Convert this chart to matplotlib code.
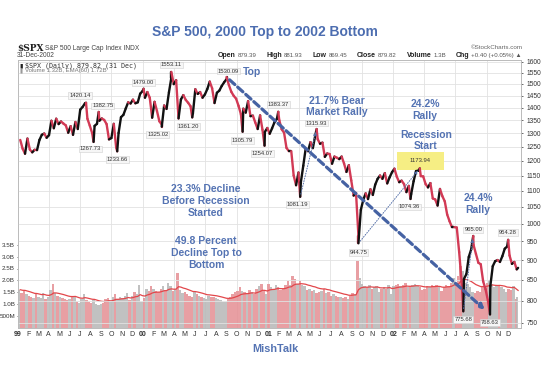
import numpy as np
import pandas as pd
import matplotlib
matplotlib.use('Agg')
import matplotlib.pyplot as plt
import matplotlib.dates as mdates
from matplotlib.collections import LineCollection
from matplotlib.patches import Rectangle

plt.rcParams['font.family'] = ['Liberation Sans', 'DejaVu Sans']

# ---------------- data ----------------
close_1999 = [1275, 1243, 1225, 1280, 1240, 1230, 1239, 1238, 1275, 1294, 1299, 1283,
              1293, 1348, 1319, 1356, 1335, 1345, 1337, 1330, 1302, 1327, 1294, 1343, 1316,
              1392, 1403, 1418, 1356, 1329, 1300, 1328, 1336, 1348, 1357, 1351, 1335, 1277,
              1282, 1336, 1247, 1301, 1362, 1371, 1397, 1422, 1417, 1433, 1418, 1422, 1458, 1469]
close_2000 = [1441, 1465, 1441, 1360, 1424, 1387, 1346, 1333, 1409, 1395, 1464, 1527, 1499,
              1516, 1357, 1434, 1452, 1432, 1420, 1406, 1378, 1477, 1457, 1465, 1441, 1455,
              1478, 1510, 1481, 1419, 1462, 1471, 1491, 1507, 1521, 1495, 1466, 1449, 1437,
              1408, 1374, 1396, 1380, 1427, 1366, 1368, 1341, 1316, 1369, 1313, 1305, 1320]
close_2001 = [1298, 1319, 1342, 1355, 1350, 1315, 1302, 1246, 1234, 1234, 1150, 1118, 1160,
              1128, 1183, 1243, 1234, 1267, 1245, 1292, 1278, 1261, 1265, 1214, 1226, 1224,
              1190, 1215, 1211, 1206, 1215, 1191, 1162, 1185, 1134, 1085, 1093, 966, 1041,
              1071, 1092, 1074, 1105, 1087, 1120, 1139, 1150, 1139, 1158, 1124, 1144, 1161]
close_2002 = [1173, 1146, 1128, 1133, 1122, 1096, 1116, 1090, 1131, 1165, 1166, 1148, 1147,
              1122, 1111, 1125, 1076, 1073, 1054, 1106, 1083, 1067, 1027, 1007, 990, 990,
              989, 921, 847, 852, 864, 908, 928, 940, 916, 893, 889, 846, 827,
              800, 835, 884, 897, 900, 895, 910, 930, 936, 912, 890, 895, 876, 879.82]

vol_1999 = [1.60, 1.45, 1.55, 1.40, 1.35, 1.30, 1.25, 1.40, 1.30, 1.25, 1.45, 1.20,
            1.30, 1.60, 1.85, 1.45, 1.35, 1.30, 1.25, 1.20, 1.15, 1.20, 1.30, 1.35, 1.10,
            1.05, 1.20, 1.40, 1.15, 1.10, 1.05, 1.15, 1.00, 0.95, 1.00, 1.05, 1.20, 1.25,
            1.10, 1.30, 1.40, 1.20, 1.30, 1.25, 1.35, 1.45, 1.15, 1.35, 1.50, 1.40, 1.80, 1.10]
vol_2000 = [1.25, 1.65, 1.55, 1.75, 1.65, 1.55, 1.50, 1.65, 1.75, 1.60, 1.90, 1.75, 1.55,
            1.65, 2.30, 1.60, 1.45, 1.50, 1.40, 1.35, 1.30, 1.50, 1.40, 1.35, 1.30, 1.25,
            1.20, 1.35, 1.30, 1.30, 1.25, 1.20, 1.15, 1.10, 1.10, 1.20, 1.30, 1.40, 1.50,
            1.55, 1.70, 1.55, 1.50, 1.45, 1.60, 1.50, 1.40, 1.65, 1.75, 1.85, 1.55, 1.40]
vol_2001 = [1.85, 1.70, 1.65, 1.80, 1.70, 1.60, 1.65, 1.80, 1.95, 1.80, 2.20, 2.05, 1.85,
            1.95, 1.80, 1.75, 1.60, 1.65, 1.55, 1.60, 1.45, 1.50, 1.55, 1.65, 1.45, 1.50,
            1.35, 1.40, 1.35, 1.30, 1.30, 1.25, 1.30, 1.20, 1.35, 1.45, 1.40, 2.80, 2.10,
            1.85, 1.75, 1.70, 1.80, 1.65, 1.70, 1.75, 1.50, 1.65, 1.70, 1.65, 1.80, 1.40]
vol_2002 = [1.75, 1.80, 1.85, 1.75, 1.80, 1.90, 1.70, 1.75, 1.80, 1.85, 1.75, 1.70, 1.60,
            1.65, 1.75, 1.70, 1.80, 1.75, 1.80, 1.70, 1.55, 1.70, 1.80, 1.75, 1.90, 2.10,
            1.85, 2.20, 2.60, 2.40, 1.90, 1.85, 1.70, 1.50, 1.45, 1.55, 1.50, 1.75, 1.70,
            1.90, 2.00, 1.85, 1.70, 1.75, 1.80, 1.70, 1.65, 1.50, 1.65, 1.60, 1.75, 1.20, 1.30]

# labelled highs / lows
pivot_dates = ['1999-07-19', '1999-08-10', '1999-08-25', '1999-10-18', '2000-01-03',
               '2000-02-25', '2000-03-24', '2000-05-24', '2000-09-01', '2000-10-18',
               '2000-12-21', '2001-01-30', '2001-04-04', '2001-05-22', '2001-09-21',
               '2002-02-20', '2002-03-19', '2002-07-24', '2002-08-22', '2002-10-10',
               '2002-12-02']
pivot_values = [1420.14, 1267.73, 1382.75, 1233.66, 1479.00,
                1325.02, 1553.11, 1361.20, 1530.09, 1305.79,
                1254.07, 1383.37, 1081.19, 1315.93, 944.75,
                1074.36, 1173.94, 775.68, 965.00, 768.63,
                954.28]

price_ticks = list(range(750, 1601, 50))
vol_ticks = [0.5, 1.0, 1.5, 2.0, 2.5, 3.0, 3.5]
vol_tick_labels = ['500M', '1.0B', '1.5B', '2.0B', '2.5B', '3.0B', '3.5B']

# ---------------- layout helpers ----------------
W, H = 556, 370
fig = plt.figure(figsize=(W / 100, H / 100), dpi=100)


def fx(x):
    return x / W


def fy(y):
    return 1 - y / H


L, R, T, B = 17.5, 520.5, 59.5, 328.0
axv = fig.add_axes([fx(L), fy(B), (R - L) / W, (B - T) / H])
ax = axv.twinx()

week_dates = pd.date_range('1999-01-08', '2002-12-27', freq='W-FRI').append(
    pd.DatetimeIndex(['2002-12-31']))
weekly_close = close_1999 + close_2000 + close_2001 + close_2002
weekly_vol = vol_1999 + vol_2000 + vol_2001 + vol_2002

# ---------------- volume ----------------
wc = np.array(weekly_close, dtype=float)
down = np.r_[False, wc[1:] < wc[:-1]]
vcol = np.where(down, '#e58e93', '#b7b7b7')
axv.bar(week_dates - pd.Timedelta(days=3), weekly_vol, width=7, color=vcol,
        alpha=0.85, linewidth=0, zorder=1)
ema = pd.Series(weekly_vol).ewm(span=12, adjust=False).mean()
axv.plot(week_dates, ema, color='#e2474b', lw=0.9, zorder=2)
axv.set_ylim(-0.5 / 23.6, (B - T - 0.5) / 23.6)
axv.set_yticks(vol_ticks)
axv.set_yticklabels(vol_tick_labels)
axv.tick_params(axis='y', labelsize=4.5, colors='#333333', length=1.0, pad=0.8,
                width=0.5)

# ---------------- price ----------------
pdates = pd.to_datetime(pivot_dates)
s = pd.concat([pd.Series(weekly_close, index=week_dates),
               pd.Series(pivot_values, index=pdates)]).sort_index()
xs = mdates.date2num(s.index.to_pydatetime())
ys = s.values
pts = np.column_stack([xs, ys])
segs = np.stack([pts[:-1], pts[1:]], axis=1)
cols = ['#111111' if ys[i + 1] >= ys[i] else '#d23a55' for i in range(len(ys) - 1)]
ax.add_collection(LineCollection(segs, colors=cols, linewidths=1.7, zorder=4,
                                 capstyle='round', joinstyle='round'))
ax.set_yscale('log')
ax.set_ylim(739, 1610)
ax.yaxis.set_minor_locator(matplotlib.ticker.NullLocator())
ax.yaxis.set_minor_formatter(matplotlib.ticker.NullFormatter())
ax.set_yticks(price_ticks)
ax.set_yticklabels([str(v) for v in price_ticks])
ax.tick_params(axis='y', labelsize=4.8, colors='#333333', length=1.5, pad=3,
               width=0.5)
ax.yaxis.grid(True, color='#e2e2e2', lw=0.6, zorder=0)
ax.set_axisbelow(True)

x0 = mdates.date2num(pd.Timestamp('1998-12-31'))
x1 = mdates.date2num(pd.Timestamp('2003-01-07'))
axv.set_xlim(x0, x1)
for q in pd.date_range('1999-04-01', '2002-10-01', freq='QS'):
    axv.axvline(q, color='#e2e2e2', lw=0.6, zorder=0)

months = pd.date_range('1999-01-01', '2002-12-01', freq='MS')
axv.set_xticks(mdates.date2num(months.to_pydatetime()))
labs = [f"{d.year % 100:02d}" if d.month == 1 else d.strftime('%b')[0] for d in months]
axv.set_xticklabels(labs)
axv.tick_params(axis='x', labelsize=5, colors='#333333', length=0, pad=2)
for t, d in zip(axv.get_xticklabels(), months):
    if d.month == 1:
        t.set_fontweight('bold')

for a in (ax, axv):
    for sp in a.spines.values():
        sp.set_color('#bbbbbb')
        sp.set_linewidth(0.6)

# ---------------- pivot labels ----------------
label_offsets = [(-6, 7), (-3, -7), (4, 6), (0, -8), (0, 6),
                 (-4, -8), (0, 7), (-4, -9), (2, 6), (0, -9),
                 (-2, -8), (0, 7), (-3, -8), (0, 6), (0, -9),
                 (-1, -8), (0, 7), (0, -8), (0, 6), (0, -8),
                 (0, 7)]
for d, v, (ox, oy) in zip(pdates, pivot_values, label_offsets):
    if v == 1173.94:
        continue
    ax.annotate(f"{v:.2f}", (d, v), xytext=(ox * 0.72, oy * 0.72),
                textcoords='offset points', ha='center', va='center',
                fontsize=4.2, color='#333333', zorder=6,
                bbox=dict(boxstyle='square,pad=0.15', fc='#f6f6f6', ec='#cfcfcf', lw=0.4))

# yellow highlight
ax.add_patch(Rectangle((fx(397), fy(170)), 47 / W, 18 / H, transform=fig.transFigure,
                       facecolor='#f6ee84', edgecolor='none', zorder=3, clip_on=False))
fig.text(fx(420), fy(161), '1173.94', ha='center', va='center', fontsize=4.2,
         color='#333333', zorder=7)

# ---------------- arrows ----------------
blue = '#4c6db0'
pv = dict(zip(pivot_values, pdates))
ax.annotate('', xy=(pv[768.63], 768.63), xytext=(pv[1530.09], 1530.09),
            arrowprops=dict(arrowstyle='-|>', lw=2.3, ls=(0, (2.2, 1.2)), color='#4562a3',
                            mutation_scale=7, shrinkA=3, shrinkB=5), zorder=5)
for lo, hi in [(1081.19, 1315.93), (944.75, 1173.94), (775.68, 965.00)]:
    ax.annotate('', xy=(pv[hi], hi), xytext=(pv[lo], lo),
                arrowprops=dict(arrowstyle='-|>', lw=0.7, ls=':', color='#5570a8',
                                mutation_scale=5, shrinkA=2, shrinkB=2), zorder=5)

# ---------------- texts ----------------
fig.text(fx(265), fy(32), 'S&P 500, 2000 Top to 2002 Bottom', ha='center', va='center',
         fontsize=10, fontweight='bold', color=blue)

ann = dict(ha='center', va='center', fontsize=7.5, fontweight='bold', color='#5473b3',
           linespacing=1.2)
fig.text(fx(243), fy(72), 'Top', **{**ann, 'ha': 'left'})
fig.text(fx(337), fy(106.5), '21.7% Bear\nMarket Rally', **ann)
fig.text(fx(425), fy(110), '24.2%\nRally', **ann)
fig.text(fx(426), fy(140.5), 'Recession\nStart', **ann)
fig.text(fx(478), fy(204), '24.4%\nRally', **ann)
fig.text(fx(206), fy(201), '23.3% Decline\nBefore Recession\nStarted', **ann)
fig.text(fx(206), fy(253), '49.8 Percent\nDecline Top to\nBottom', **ann)
fig.text(fx(275), fy(349), 'MishTalk', ha='center', va='center', fontsize=7.8,
         fontweight='bold', color='#5473b3')

# header
fig.text(fx(17), fy(49), '$SPX', ha='left', va='center', fontsize=6.5, fontweight='bold',
         color='#222222', family='DejaVu Serif')
fig.text(fx(45), fy(49), 'S&P 500 Large Cap Index INDX', ha='left', va='center',
         fontsize=4.8, color='#444444')
fig.text(fx(17), fy(55.7), '31-Dec-2002', ha='left', va='center', fontsize=4.8,
         color='#444444')
fig.text(fx(523), fy(47.7), '\u00a9StockCharts.com', ha='right', va='center',
         fontsize=4.5, color='#666666')

# quote line laid out left to right from x=218 to x=522
pairs = [('Open', '879.39'), ('High', '881.93'), ('Low', '869.45'), ('Close', '879.82'),
         ('Volume', '1.3B'), ('Chg', '+0.40 (+0.05%) \u25b2')]
renderer = fig.canvas.get_renderer()
items = []
for k, v in pairs:
    tk = fig.text(0, fy(55.7), k, ha='left', va='center', fontsize=5.0,
                  fontweight='bold', color='#222222')
    tv = fig.text(0, fy(55.7), v, ha='left', va='center', fontsize=4.4, color='#555555')
    items.append((tk, tv))
widths = [(a.get_window_extent(renderer).width, b.get_window_extent(renderer).width)
          for a, b in items]
inner = 2.0
total = sum(a + b + inner for a, b in widths)
gap = (522 - 218 - total) / (len(items) - 1)
x = 218.0
for (tk, tv), (wa, wb) in zip(items, widths):
    tk.set_x(fx(x))
    tv.set_x(fx(x + wa + inner))
    x += wa + inner + wb + gap

# legend inside plot
fig.text(fx(19), fy(65.7), '\u25ae', ha='left', va='center', fontsize=4.5,
         color='#222222', family='DejaVu Sans')
fig.text(fx(25), fy(65.7), '$SPX (Daily) 879.82 (31 Dec)', ha='left', va='center',
         fontsize=4.8, color='#333333', family='DejaVu Sans Mono')
fig.text(fx(19), fy(70.7), '\u25ae', ha='left', va='center', fontsize=4.0,
         color='#999999', family='DejaVu Sans')
fig.text(fx(25), fy(70.7), 'Volume 1.32B, EMA(60) 1.72B', ha='left', va='center',
         fontsize=4.3, color='#777777')

fig.savefig('out.png', dpi=100)
